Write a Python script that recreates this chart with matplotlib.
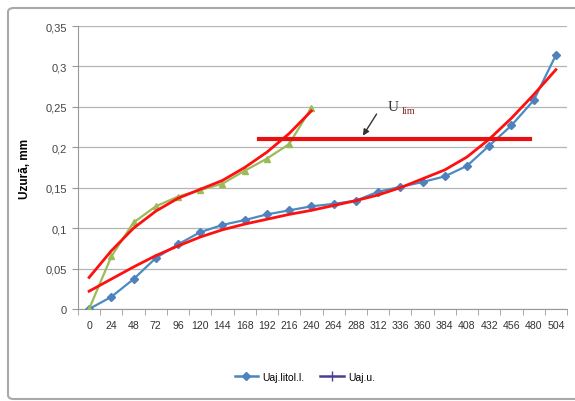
import numpy as np
import matplotlib
matplotlib.use("Agg")
import matplotlib.pyplot as plt
from matplotlib.patches import FancyBboxPatch
from matplotlib.lines import Line2D

# ---- data ----
hours = [0, 24, 48, 72, 96, 120, 144, 168, 192, 216, 240, 264, 288, 312, 336,
         360, 384, 408, 432, 456, 480, 504]
uaj_litol = [0.0, 0.015, 0.037, 0.063, 0.080, 0.095, 0.104, 0.110, 0.117, 0.122,
             0.127, 0.130, 0.134, 0.145, 0.151, 0.157, 0.164, 0.177, 0.202, 0.227,
             0.258, 0.314]
uaj_u = [0.0, 0.065, 0.107, 0.127, 0.139, 0.147, 0.155, 0.171, 0.186, 0.204, 0.249]
# trendlines
trend_litol = [0.022, 0.037, 0.052, 0.066, 0.078, 0.089, 0.098, 0.105, 0.111, 0.117,
               0.122, 0.128, 0.134, 0.141, 0.150, 0.161, 0.172, 0.188, 0.210, 0.236,
               0.265, 0.296]
trend_u = [0.039, 0.072, 0.100, 0.121, 0.137, 0.148, 0.159, 0.175, 0.194, 0.217, 0.245]
u_lim = 0.21
u_lim_start = 183
u_lim_end = 476
y_ticks = [0, 0.05, 0.1, 0.15, 0.2, 0.25, 0.3, 0.35]
y_ticklabels = ["0", "0,05", "0,1", "0,15", "0,2", "0,25", "0,3", "0,35"]

fig = plt.figure(figsize=(5.75, 4.02), dpi=100)
fig.patch.set_facecolor("white")
ax = fig.add_axes([78/575, 1-310/402, (567-78)/575, (310-27)/402])

idx_b = np.arange(len(uaj_litol))
idx_g = np.arange(len(uaj_u))

ax.set_axisbelow(True)
ax.yaxis.grid(True, color="#b4b4b4", lw=0.9)

ax.plot(idx_b, uaj_litol, color="#4a8cc2", lw=1.6, marker="D", ms=4.5,
        mfc="#4f81bd", mec="#4f81bd", zorder=3)
ax.plot(idx_g, uaj_u, color="#9bbb59", lw=1.6, marker="^", ms=5,
        mfc="#9bbb59", mec="#9bbb59", zorder=3)

# trendlines
ax.plot(idx_b, trend_litol, color="#ff1010", lw=2, zorder=4, solid_joinstyle="round")
ax.plot(idx_g, trend_u, color="#ff1010", lw=2, zorder=4, solid_joinstyle="round")

# U lim line
ax.plot([u_lim_start/24, u_lim_end/24], [u_lim, u_lim], color="#e81010", lw=3, zorder=5)
ax.annotate("", xy=(12.25, 0.2115), xytext=(13.0, 0.244),
            arrowprops=dict(arrowstyle="-|>", color="#333333", lw=1.0,
                            mutation_scale=9), zorder=6)
ax.text(13.45, 0.243, "U", fontsize=11, family="Liberation Serif", color="#333333",
        ha="left", va="bottom")
ax.text(14.05, 0.24, "lim", fontsize=7.5, family="Liberation Serif", color="#8b2a2a",
        ha="left", va="bottom")

ax.set_xlim(-0.5, len(hours)-0.5)
ax.set_ylim(0, 0.35)
ax.set_xticks(idx_b)
ax.set_xticklabels([str(h) for h in hours], fontsize=7.6, family="Liberation Sans",
                   color="#333333")
ax.set_xticks(np.arange(-0.5, len(hours), 1), minor=True)
ax.tick_params(axis="x", which="major", length=0, pad=8)
ax.tick_params(axis="x", which="minor", length=4, color="#999999", direction="out")
ax.set_yticks(y_ticks)
ax.set_yticklabels(y_ticklabels, fontsize=8, family="Liberation Sans", color="#444444")
ax.tick_params(axis="y", length=4, color="#999999", pad=4)

for s in ["top", "right"]:
    ax.spines[s].set_visible(False)
ax.spines["left"].set_color("#999999")
ax.spines["bottom"].set_color("#999999")

ax.set_ylabel("Uzură, mm", fontsize=8.5, fontweight="bold", family="Liberation Sans",
              labelpad=10)

handles = [Line2D([], [], color="#4a86c0", lw=1.8, marker="D", ms=4, mfc="#4f81bd",
                  mec="#4f81bd"),
           Line2D([], [], color="#4b3f8f", lw=1.8, marker="|", ms=7, mec="#4b3f8f")]
fig.legend(handles, ["Uaj.litol.l.", "Uaj.u."], loc="center",
           bbox_to_anchor=(305/575, 1-378/402), ncol=2, frameon=False,
           prop=dict(family="Liberation Sans", size=7.5), handlelength=2.3,
           columnspacing=1.5, handletextpad=0.4)

border = FancyBboxPatch((8/575, 2/402), 1.2, 1-9/402-2/402,
                        boxstyle="round,pad=0,rounding_size=0.01",
                        transform=fig.transFigure, fill=False,
                        edgecolor="#a8a8a8", lw=1.5)
fig.patches.append(border)

fig.savefig("out.png", dpi=100)
